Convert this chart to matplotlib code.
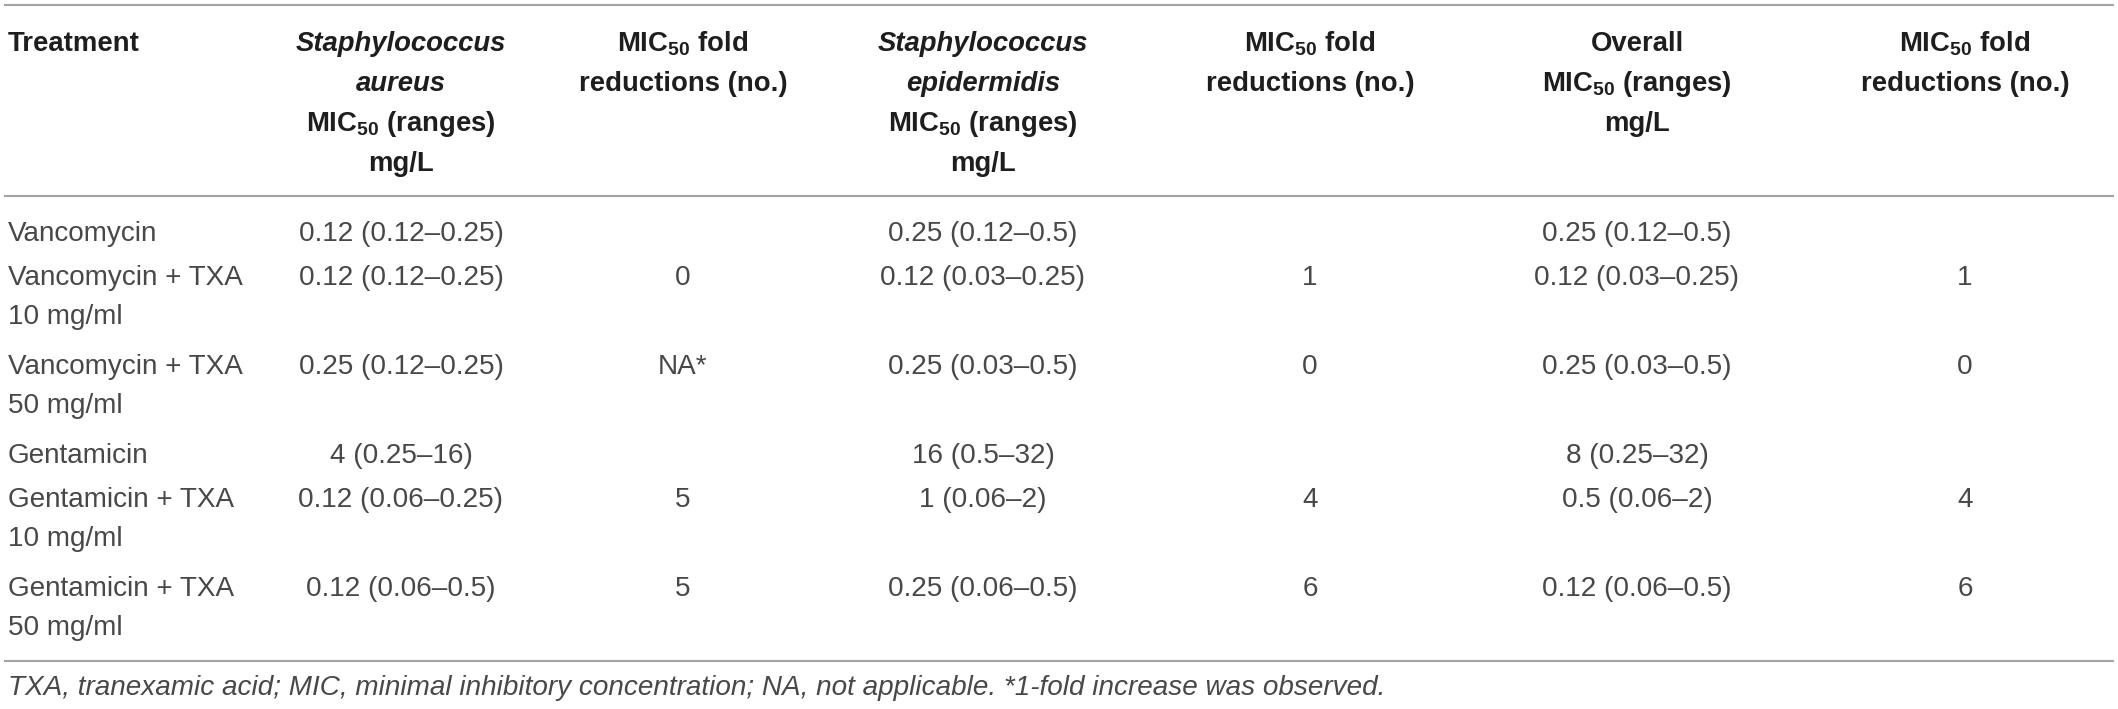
import matplotlib
matplotlib.use("Agg")
import matplotlib.pyplot as plt

plt.rcParams['mathtext.fontset'] = 'custom'
plt.rcParams['mathtext.rm'] = 'Liberation Sans'
plt.rcParams['mathtext.bf'] = 'Liberation Sans:bold'
plt.rcParams['mathtext.it'] = 'Liberation Sans:italic'

# table contents
treatments = ["Vancomycin", "Vancomycin + TXA\n10 mg/ml", "Vancomycin + TXA\n50 mg/ml",
              "Gentamicin", "Gentamicin + TXA\n10 mg/ml", "Gentamicin + TXA\n50 mg/ml"]
sa_mic = ["0.12 (0.12–0.25)", "0.12 (0.12–0.25)", "0.25 (0.12–0.25)",
          "4 (0.25–16)", "0.12 (0.06–0.25)", "0.12 (0.06–0.5)"]
sa_fold = ["", "0", "NA*", "", "5", "5"]
se_mic = ["0.25 (0.12–0.5)", "0.12 (0.03–0.25)", "0.25 (0.03–0.5)",
          "16 (0.5–32)", "1 (0.06–2)", "0.25 (0.06–0.5)"]
se_fold = ["", "1", "0", "", "4", "6"]
overall_mic = ["0.25 (0.12–0.5)", "0.12 (0.03–0.25)", "0.25 (0.03–0.5)",
               "8 (0.25–32)", "0.5 (0.06–2)", "0.12 (0.06–0.5)"]
overall_fold = ["", "1", "0", "", "4", "6"]

fold_hdr = [r"MIC$_{\mathbf{50}}$ fold", "reductions (no.)"]
headers = [
    [("Treatment", "normal")],
    [("Staphylococcus", "italic"), ("aureus", "italic"),
     (r"MIC$_{\mathbf{50}}$ (ranges)", "normal"), ("mg/L", "normal")],
    [(t, "normal") for t in fold_hdr],
    [("Staphylococcus", "italic"), ("epidermidis", "italic"),
     (r"MIC$_{\mathbf{50}}$ (ranges)", "normal"), ("mg/L", "normal")],
    [(t, "normal") for t in fold_hdr],
    [("Overall", "normal"), (r"MIC$_{\mathbf{50}}$ (ranges)", "normal"), ("mg/L", "normal")],
    [(t, "normal") for t in fold_hdr],
]
footnote = ("TXA, tranexamic acid; MIC, minimal inhibitory concentration; "
            "NA, not applicable. *1-fold increase was observed.")

W, H = 2118, 709
fig = plt.figure(figsize=(W / 100, H / 100), dpi=100)
ax = fig.add_axes([0, 0, 1, 1])
ax.set_xlim(0, W)
ax.set_ylim(H, 0)
ax.axis('off')

col_x = [8, 401, 683, 983, 1310, 1637, 1965]
fs_body = 20.1
fs_hdr = 19.8
rule_c = '#a3a3a3'
body_c = '#484848'
hdr_c = '#1e1e1e'
font = 'Liberation Sans'

# rules
for y in [5, 196, 661]:
    ax.plot([4, W - 4], [y, y], color=rule_c, lw=1.5, solid_capstyle='butt')

# header
for j, lines in enumerate(headers):
    ha = 'left' if j == 0 else 'center'
    for k, (txt, style) in enumerate(lines):
        ax.text(col_x[j], 51 + k * 40, txt, ha=ha, va='baseline',
                fontsize=fs_hdr, fontweight='bold', style=style,
                family=font, color=hdr_c)

# body
columns = [treatments, sa_mic, sa_fold, se_mic, se_fold, overall_mic, overall_fold]
y = 241
for i in range(len(treatments)):
    n = len(treatments[i].split("\n"))
    for j, col in enumerate(columns):
        ha = 'left' if j == 0 else 'center'
        for k, txt in enumerate(col[i].split("\n")):
            ax.text(col_x[j], y + k * 39, txt, ha=ha, va='baseline',
                    fontsize=fs_body, family=font, color=body_c)
    y += 44 + 45 * (n - 1)

ax.text(8, 695, footnote, ha='left', va='baseline', fontsize=fs_body,
        style='italic', family=font, color=body_c)

fig.savefig("out.png", dpi=100, facecolor='white')
